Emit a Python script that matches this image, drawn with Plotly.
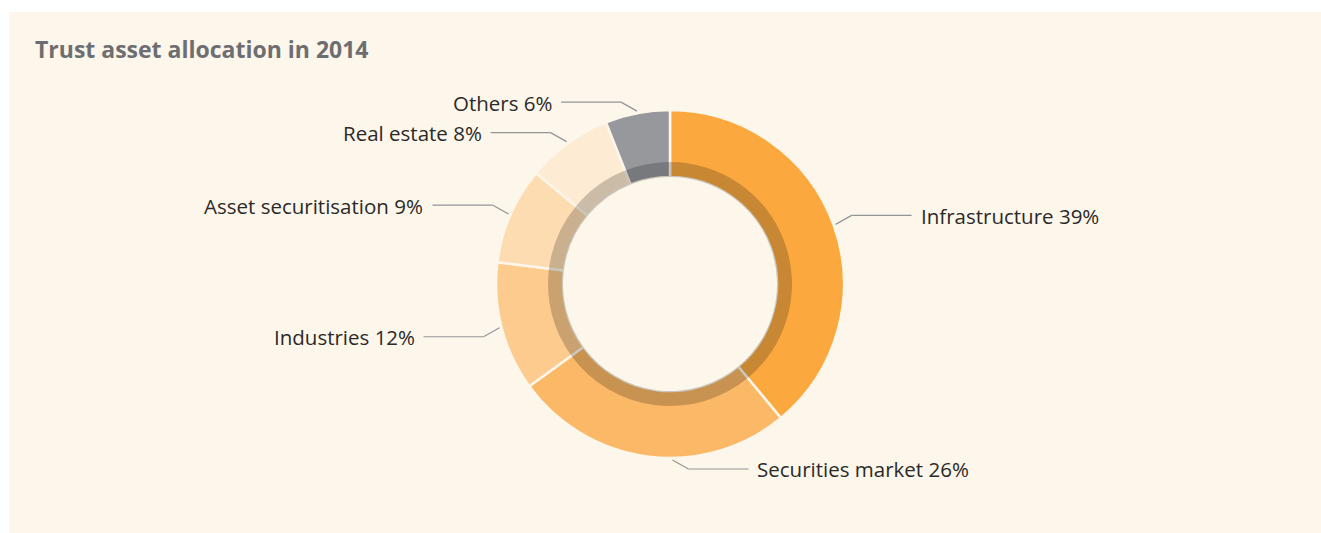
import math
import plotly.graph_objects as go

# ---------------- data ----------------
categories = ["Infrastructure", "Securities market", "Industries",
              "Asset securitisation", "Real estate", "Others"]
shares = [39, 26, 12, 9, 8, 6]
title_text = "Trust asset allocation in 2014"

# ---------------- styles ----------------
colors = ["#FBA93F", "#FBB866", "#FCCB8D", "#FDDCB2", "#FEEBD3", "#97989C"]
BG = "#FDF6EA"
W, H = 1321, 533
CX, CY = 670, 284
R_OUT, R_BAND, R_HOLE = 174, 122, 107
label_angle_shift = {"Securities market": -8}   # leader anchor tweak (deg)


def dom(r):
    return dict(x=[(CX - r) / W, (CX + r) / W],
                y=[1 - (CY + r) / H, 1 - (CY - r) / H])


def px(x):
    return x / W


def py(y):
    return 1 - y / H


fig = go.Figure()
# main ring (full thickness)
fig.add_trace(go.Pie(
    labels=categories, values=shares, sort=False, direction="clockwise",
    rotation=0, hole=R_HOLE / R_OUT, domain=dom(R_OUT),
    marker=dict(colors=colors, line=dict(color=BG, width=2.5)),
    textinfo="none", hoverinfo="label+percent", showlegend=False,
))
# darker inner band as a translucent overlay
fig.add_trace(go.Pie(
    labels=categories, values=shares, sort=False, direction="clockwise",
    rotation=0, hole=R_HOLE / R_BAND, domain=dom(R_BAND),
    marker=dict(colors=["rgba(0,0,0,0.2)"] * len(shares),
                line=dict(width=0)),
    textinfo="none", hoverinfo="skip", showlegend=False,
))

shapes = [dict(type="rect", xref="paper", yref="paper", x0=px(9), x1=1.0,
               y0=0.0, y1=py(12), fillcolor=BG, line=dict(width=0),
               layer="below")]
annotations = [dict(text="<b>" + title_text + "</b>", xref="paper",
                    yref="paper", x=px(33), y=py(49), xanchor="left",
                    yanchor="middle", showarrow=False,
                    font=dict(family="Open Sans", size=23, color="#6D6E71"))]

total = sum(shares)
cum = 0
LINE = "#939598"
for cat, v in zip(categories, shares):
    mid = (cum + v / 2) / total
    cum += v
    th = math.radians(360 * mid + label_angle_shift.get(cat, 0))
    r = R_OUT + 2
    sx = CX + r * math.sin(th)
    sy = CY - r * math.cos(th)
    side = 1 if math.sin(th) > 0 else -1
    vert = 1 if sy > CY else -1
    ex, ey = sx + side * 16, sy + vert * 9
    hx = ex + side * 60
    for (x0, y0, x1, y1) in [(sx, sy, ex, ey), (ex, ey, hx, ey)]:
        shapes.append(dict(type="line", xref="paper", yref="paper",
                           x0=px(x0), y0=py(y0), x1=px(x1), y1=py(y1),
                           line=dict(color=LINE, width=1.2)))
    annotations.append(dict(
        text=f"{cat} {v}%", xref="paper", yref="paper",
        x=px(hx + side * 7), y=py(ey + 0.5),
        xanchor="left" if side > 0 else "right", yanchor="middle",
        showarrow=False,
        font=dict(family="Open Sans", size=20.5, color="#2B2A29")))

fig.update_layout(
    width=W, height=H, margin=dict(l=0, r=0, t=0, b=0),
    paper_bgcolor="white", plot_bgcolor="white",
    shapes=shapes, annotations=annotations, showlegend=False,
)

fig.write_html("out.html", config={"displayModeBar": False},
               post_script="document.body.style.margin='0';")
